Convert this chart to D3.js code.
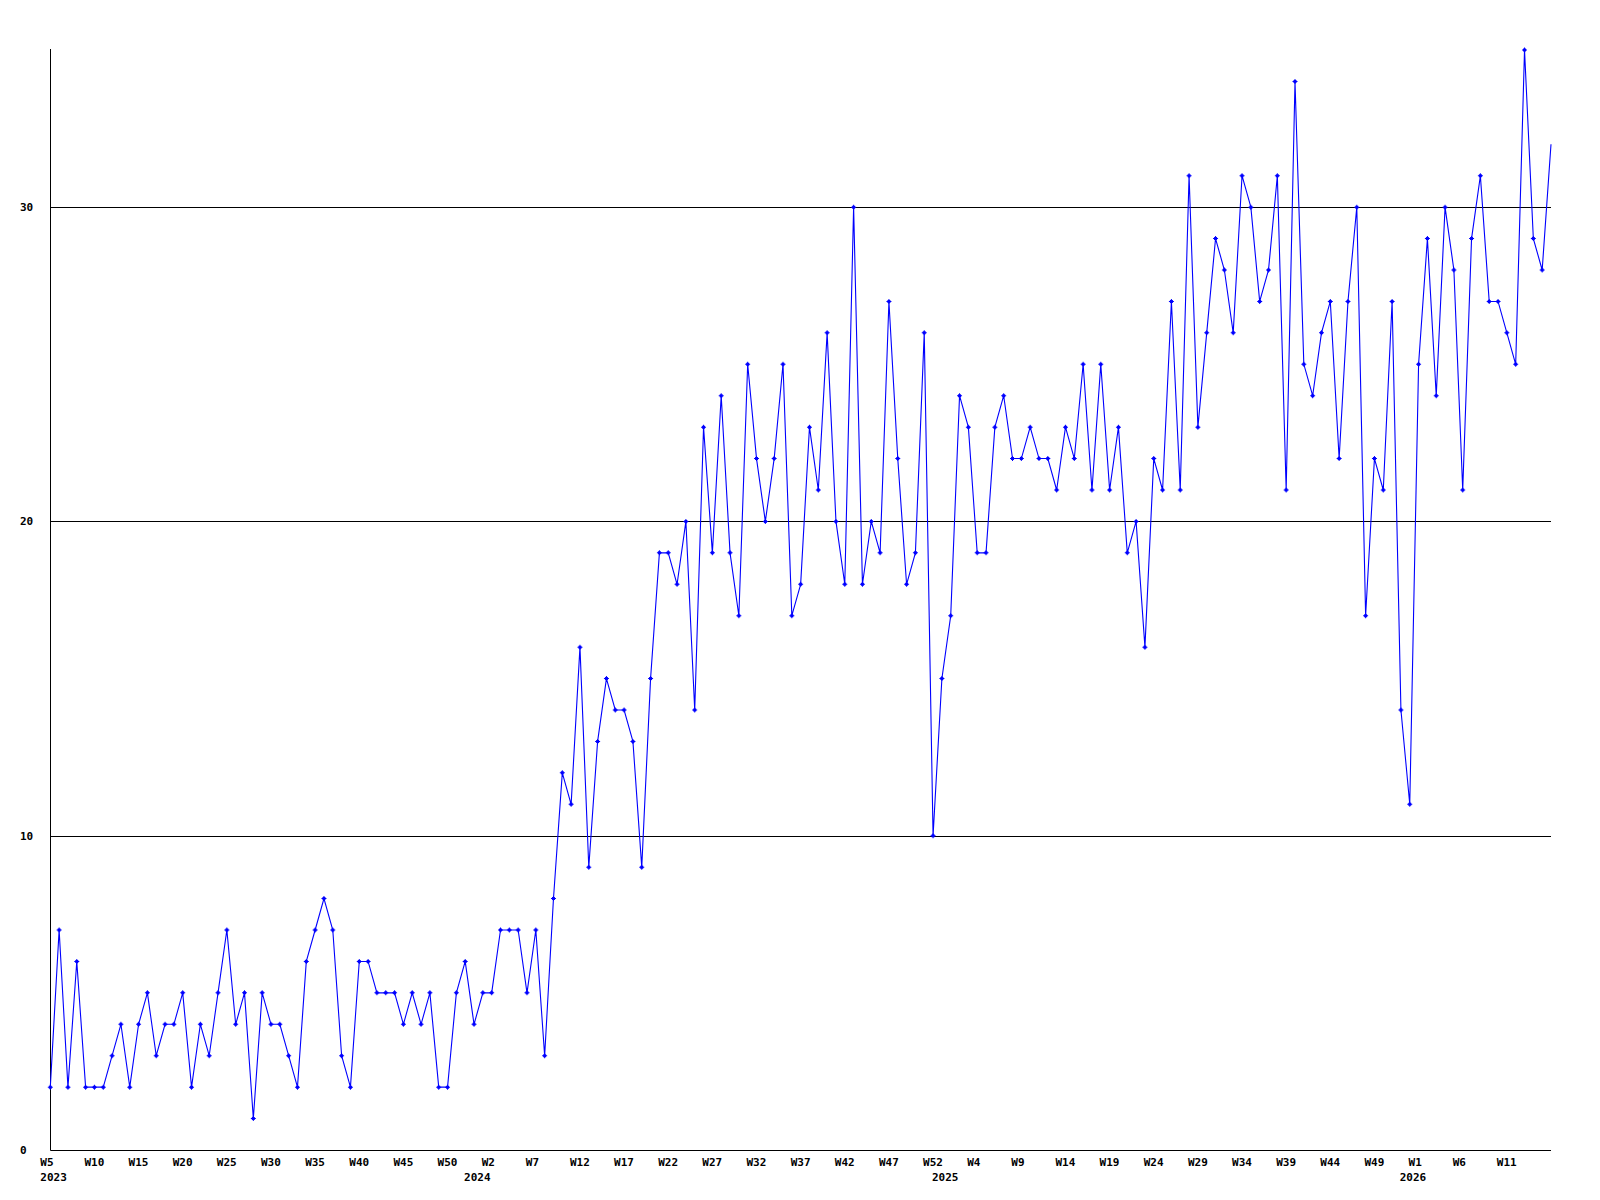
<!DOCTYPE html>
<html>
<head>
<meta charset="utf-8">
<script src="https://cdn.jsdelivr.net/npm/d3@7/dist/d3.min.js"></script>
<style>
    body { margin: 0; background: #fff; }
    svg { display: block; }
    text { font-family: "DejaVu Sans Mono", monospace; font-weight: bold; font-size: 11px; fill: #000; }
</style>
</head>
<body>
<div id="chart"></div>
<script>
const width = 1600
const height = 1200

// weeks covered per year: [year, first week, last week]
const yearSpans = [
    [2023, 5, 52],
    [2024, 0, 52],
    [2025, 0, 52],
    [2026, 0, 16]
]

// one value per week
const values = [
    2, 7, 2, 6, 2, 2, 2, 3, 4, 2, 4, 5, 3, 4, 4, 5, 2, 4, 3, 5, 7, 4, 5,
    1, 5, 4, 4, 3, 2, 6, 7, 8, 7, 3, 2, 6, 6, 5, 5, 5, 4, 5, 4, 5, 2, 2,
    5, 6, 4, 5, 5, 7, 7, 7, 5, 7, 3, 8, 12, 11, 16, 9, 13, 15, 14, 14, 13, 9, 15,
    19, 19, 18, 20, 14, 23, 19, 24, 19, 17, 25, 22, 20, 22, 25, 17, 18, 23, 21, 26, 20, 18,
    30, 18, 20, 19, 27, 22, 18, 19, 26, 10, 15, 17, 24, 23, 19, 19, 23, 24, 22, 22, 23, 22, 22,
    21, 23, 22, 25, 21, 25, 21, 23, 19, 20, 16, 22, 21, 27, 21, 31, 23, 26, 29, 28, 26, 31,
    30, 27, 28, 31, 21, 34, 25, 24, 26, 27, 22, 27, 30, 17, 22, 21, 27, 14, 11, 25, 29, 24, 30,
    28, 21, 29, 31, 27, 27, 26, 25, 35, 29, 28, 32
]

const yTicks = [0, 10, 20, 30]
const gridValues = [10, 20, 30]
const labelEvery = 5

// build the week categories from the spans
let weeks = []
yearSpans.forEach(([year, from, to]) => {
    for (let w = from; w <= to; w++) weeks.push({ year: year, week: w, first: w == from })
})

const plot = { left: 51, right: 1551, top: 50, bottom: 1150 }

function start() {
    const svg = d3.select("#chart").append("svg")
        .attr("width", width)
        .attr("height", height)

    const x = d3.scaleLinear()
        .domain([0, weeks.length - 1])
        .range([plot.left - 0.7, plot.right])

    const y = d3.scaleLinear()
        .domain([0, d3.max(values)])
        .range([plot.bottom, plot.top])

    // GRID LINES  //////////////////////////////////
    svg.append("g").selectAll("line")
        .data(gridValues)
        .join("line")
        .attr("x1", plot.left)
        .attr("x2", plot.right)
        .attr("y1", d => Math.round(y(d)) + 0.5)
        .attr("y2", d => Math.round(y(d)) + 0.5)
        .style("stroke", "#000")
        .style("stroke-width", 1)

    // AXES  ////////////////////////////////////////
    svg.append("line")
        .attr("x1", plot.left - 0.5).attr("x2", plot.left - 0.5)
        .attr("y1", y(d3.max(values)) - 1).attr("y2", plot.bottom + 0.5)
        .style("stroke", "#000")
    svg.append("line")
        .attr("x1", plot.left - 0.5).attr("x2", plot.right)
        .attr("y1", plot.bottom + 0.5).attr("y2", plot.bottom + 0.5)
        .style("stroke", "#000")

    svg.append("g").selectAll("text")
        .data(yTicks)
        .join("text")
        .attr("x", 20)
        .attr("y", d => y(d) + 4)
        .text(d => d)

    // week labels every 5 points, not on the very last one (no room)
    const xLabels = weeks.map((w, i) => ({ i: i, ...w }))
    svg.append("g").selectAll("text")
        .data(xLabels.filter(d => d.i % labelEvery == 0 && d.i < weeks.length - 1))
        .join("text")
        .attr("x", d => x(d.i) - 10)
        .attr("y", plot.bottom + 16)
        .text(d => "W" + d.week)

    svg.append("g").selectAll("text")
        .data(xLabels.filter(d => d.first))
        .join("text")
        .attr("x", d => x(d.i) - 10)
        .attr("y", plot.bottom + 31)
        .text(d => d.year)

    // LINE AND MARKERS  ////////////////////////////
    const lineHelper = d3.line().x((d, i) => x(i)).y(d => y(d))

    svg.append("path")
        .datum(values)
        .attr("d", lineHelper)
        .style("fill", "none")
        .style("stroke", "#0000ff")
        .style("stroke-width", 1.1)

    // the last point sits on the plot edge and gets no marker
    const marker = "M-2.5,-0.5h5v1h-5z M-0.5,-2.5h1v5h-1z M-1.5,-1.5h3v3h-3z"
    svg.append("g").selectAll("path")
        .data(values.slice(0, -1))
        .join("path")
        .attr("transform", (d, i) => `translate(${x(i)},${y(d)})`)
        .attr("d", marker)
        .style("fill", "#0000ff")
}

start()
</script>
</body>
</html>
